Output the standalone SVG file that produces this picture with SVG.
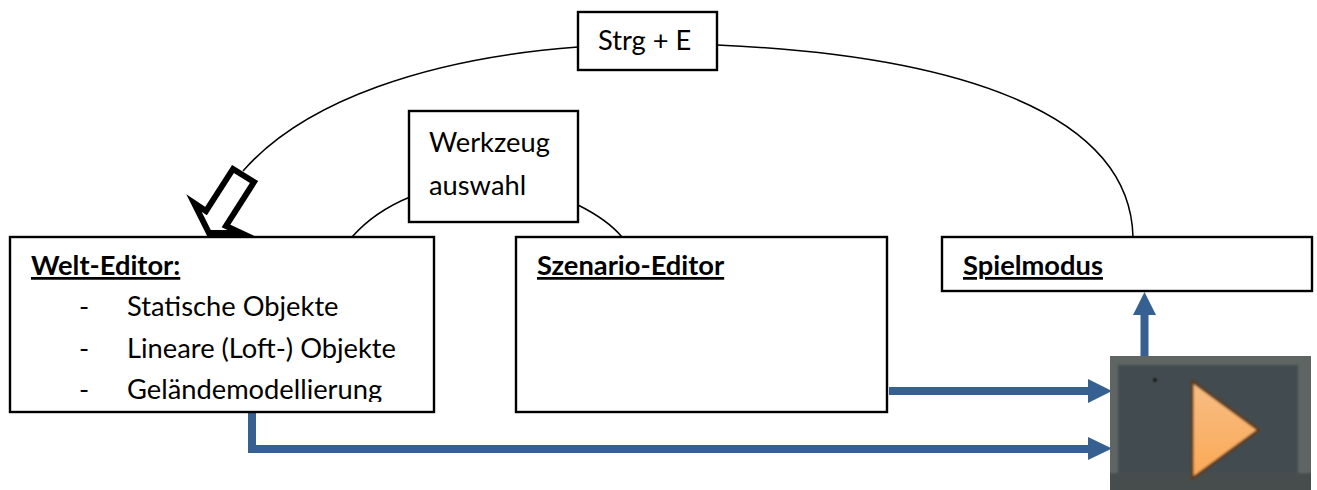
<svg xmlns="http://www.w3.org/2000/svg" width="1317" height="490" viewBox="0 0 1317 490">
<style>
text{font-family:Lato,"Open Sans","Liberation Sans",sans-serif;font-size:27.3px;fill:#000}
.b{font-weight:700;text-decoration:underline}
.box{fill:#fff;stroke:#000;stroke-width:2.4}
.c{fill:none;stroke:#000;stroke-width:1.5}
.bl{fill:none;stroke:#366092;stroke-width:8}
.ah{fill:#366092}
</style>
<defs><clipPath id="clip"><rect x="10" y="238" width="424" height="164"/></clipPath>
<linearGradient id="tri" x1="0" y1="0" x2="0" y2="1"><stop offset="0" stop-color="#f7bd85"/><stop offset="1" stop-color="#fba955"/></linearGradient>
<filter id="soft" x="-5%" y="-5%" width="110%" height="110%"><feGaussianBlur stdDeviation="1.2"/></filter>
<clipPath id="pc"><rect x="1110" y="356" width="201" height="134"/></clipPath></defs>
<rect width="1317" height="490" fill="#fff"/>
<g id="connectors">
<path class="c" d="M578 47C430 58 305 100 243 171"/>
<path class="c" d="M717 45C950 55 1130 110 1133 237"/>
<path class="c" d="M352 237C367 220 388 206 410 197"/>
<path class="c" d="M578 205C596 214 612 225 622 237"/>
<path class="bl" d="M889 391H1092"/>
<path class="bl" d="M252 409V449H1092"/>
<path class="bl" d="M1144.500 358V312"/>
<path class="ah" d="M1088 379L1112 391L1088 403Z"/>
<path class="ah" d="M1088 437L1112 448.500L1088 460Z"/>
<path class="ah" d="M1133 315L1144.500 292L1156 315Z"/>
<path d="M233 169L254 182L226 226L241 233L209 233L194 203L206 211Z" fill="#fff" stroke="#000" stroke-width="6" stroke-miterlimit="6"/>
</g>
<g id="welt-editor">
<rect class="box" x="10" y="237" width="424" height="175"/>
<g clip-path="url(#clip)">
<text class="b" x="31" y="275">Welt-Editor:</text>
<text x="79" y="316">-</text><text x="127" y="316">Statische Objekte</text>
<text x="79" y="358">-</text><text x="127" y="358">Lineare (Loft-) Objekte</text>
<text x="79" y="399">-</text><text x="127" y="399">Geländemodellierung</text>
</g>
</g>
<g id="szenario-editor">
<rect class="box" x="516" y="237" width="371" height="175"/>
<text class="b" x="537" y="275">Szenario-Editor</text>
</g>
<g id="spielmodus">
<rect class="box" x="942" y="237" width="370" height="54"/>
<text class="b" x="963" y="275">Spielmodus</text>
</g>
<g id="werkzeug">
<rect class="box" x="409" y="111" width="169" height="111"/>
<text x="429" y="152">Werkzeug</text>
<text x="429" y="195">auswahl</text>
</g>
<g id="strg-e">
<rect class="box" x="578" y="12" width="139" height="58"/>
<text x="598" y="50">Strg + E</text>
</g>
<g id="play">
<g clip-path="url(#pc)">
<g filter="url(#soft)">
<rect x="1105" y="350" width="212" height="145" fill="#5f6564"/>
<rect x="1118" y="365" width="180" height="125" fill="#434c50"/>
<rect x="1105" y="473" width="212" height="20" fill="#474d4e"/>
<circle cx="1155" cy="380" r="2" fill="#000"/>
<path d="M1192 381L1259 430L1192 479Z" fill="url(#tri)" stroke="#5c3d22" stroke-width="3" stroke-linejoin="round"/>
</g>
</g>
</g>
</svg>
